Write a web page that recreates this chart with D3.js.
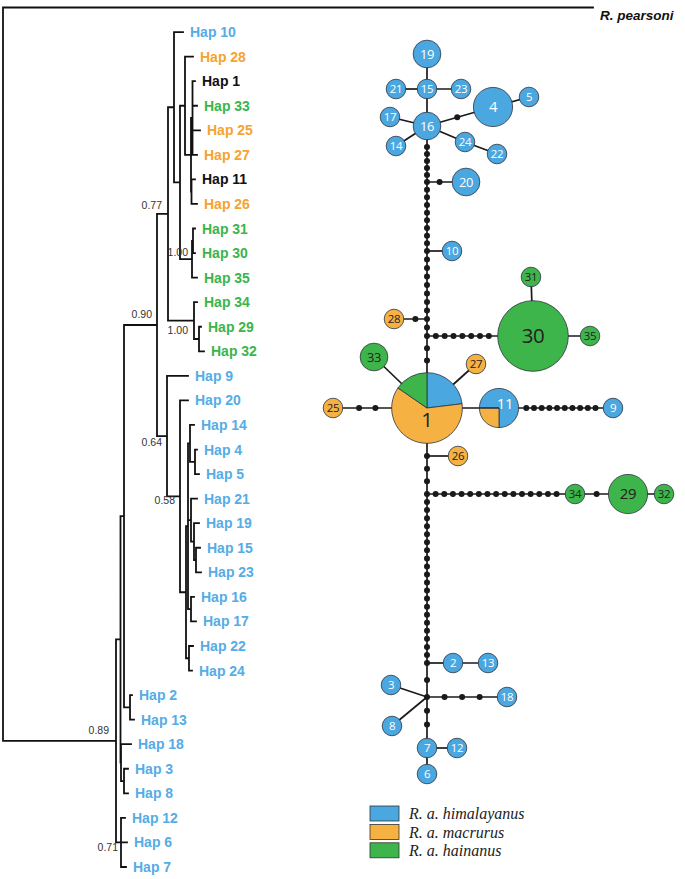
<!DOCTYPE html>
<html><head><meta charset="utf-8">
<script src="https://cdn.jsdelivr.net/npm/d3@7"></script>
<style>html,body{margin:0;padding:0;background:#fff;} svg{display:block;}</style>
</head><body><svg id="c" width="685" height="879"></svg>
<script>
// ---------------- DATA ----------------
// Bayesian tree (branch lengths, support values as internal labels)
const newick = "(R. pearsoni:590,((((((Hap 10:9,((Hap 28:8,((Hap 1:2.5,Hap 33:4.5,Hap 25:7.5,Hap 27:4.5):1.5,(Hap 11:3.5,Hap 26:5.5):0.5):6):5,((Hap 31:2,Hap 30:2):1,Hap 35:5)1.00:12):6):6,(Hap 34:3,(Hap 29:2,Hap 32:5):5)1.00:26)0.77:11,(Hap 9:21,(Hap 20:8,(((Hap 14:4,(Hap 4:2,Hap 5:4):5):2,(Hap 21:6,(Hap 19:5,(Hap 15:4,Hap 23:5):2):3):3,(Hap 16:3,Hap 17:5):3):2,(Hap 22:4,Hap 24:3):3):6)0.58:13)0.64:10)0.90:33,(Hap 2:2,Hap 13:4):6):3.5,(Hap 18:10,(Hap 3:4,Hap 8:4):3):0.5):4.5,(Hap 12:4,Hap 6:6,Hap 7:5)0.71:5)0.89:113);";

const groups = ["R. a. himalayanus", "R. a. macrurus", "R. a. hainanus"];
const blueLeaves = ["Hap 10","Hap 9","Hap 20","Hap 14","Hap 4","Hap 5","Hap 21","Hap 19","Hap 15","Hap 23","Hap 16","Hap 17","Hap 22","Hap 24","Hap 2","Hap 13","Hap 18","Hap 3","Hap 8","Hap 12","Hap 6","Hap 7"];
const orangeLeaves = ["Hap 28","Hap 25","Hap 27","Hap 26"];
const greenLeaves = ["Hap 33","Hap 31","Hap 30","Hap 35","Hap 34","Hap 29","Hap 32"];
const mixedLeaves = ["Hap 1","Hap 11"];

// Haplotype network: [id, layout x, layout y, n himalayanus, n macrurus, n hainanus]
const haplotypes = [
  ["16",0,0,2,0,0],["15",0,-37,1,0,0],["19",0,-72,2,0,0],["21",-31,-37,1,0,0],["23",34,-37,1,0,0],
  ["17",-37,-9,1,0,0],["14",-31,20,1,0,0],["4",66,-19,4,0,0],["5",102,-29,1,0,0],["24",38,16,1,0,0],
  ["22",70,28,1,0,0],["20",39,56,2,0,0],["10",25,125,1,0,0],["28",-33,193,0,1,0],["30",106,210,0,0,13],
  ["31",104,151,0,0,1],["35",163,210,0,0,1],["1",0,282,3,8,2],["33",-53,231,0,0,2],["27",49,238,0,1,0],
  ["25",-94,282,0,1,0],["11",72,282,3,1,0],["9",186,282,1,0,0],["26",31,330,0,1,0],["34",148,368,0,0,1],
  ["29",201,368,0,0,4],["32",237,368,0,0,1],["2",26,537,1,0,0],["13",61,537,1,0,0],["3",-36,559,1,0,0],
  ["8",-35,600,1,0,0],["18",80,571,1,0,0],["7",0,622,1,0,0],["12",30,622,1,0,0],["6",0,648,1,0,0]
];
// median vectors (inferred haplotypes) on the network
const medianVectors = [["J20",0,56],["J10",0,125],["J28",0,193],["J30",0,210],["J26",0,330],["J34",0,368],["J2",0,537],["H",0,571]];
// links: [from, to, mutation steps]
const links = [
  ["16","15",1],["15","19",1],["15","21",1],["15","23",1],["16","17",1],["16","14",1],["16","24",1],["24","22",1],
  ["16","4",2],["4","5",1],["16","J20",6],["J20","20",2],["J20","J10",9],["J10","10",1],["J10","J28",8],
  ["J28","28",2],["J28","J30",2],["J30","30",8],["30","31",1],["30","35",1],["J30","1",3],["1","33",1],
  ["1","27",1],["1","25",3],["1","11",1],["11","9",11],["1","J26",1],["J26","26",1],["J26","J34",3],
  ["J34","34",16],["34","29",2],["29","32",1],["J34","J2",21],["J2","2",1],["2","13",1],["J2","H",2],
  ["H","3",1],["H","8",1],["H","18",4],["H","7",3],["7","12",1],["7","6",1]
];

// ---------------- STYLE ----------------
const groupFill = ["#4BA7E0", "#F6B143", "#3DB54A"];
const labelFill = {blue:"#55ACE6", orange:"#F5A331", green:"#3BB54A", mixed:"#111"};
const svg = d3.select("#c");

// ---------------- TREE ----------------
function parseNewick(s){
  let i = 0;
  function node(){
    const n = {children: []};
    if (s[i] === "("){
      i++;
      n.children.push(node());
      while (s[i] === ","){ i++; n.children.push(node()); }
      i++;
    }
    let name = "";
    while (i < s.length && !",():;".includes(s[i])) name += s[i++];
    n.name = name.trim();
    if (s[i] === ":"){
      i++;
      let l = "";
      while (i < s.length && !",();".includes(s[i])) l += s[i++];
      n.length = +l;
    }
    return n;
  }
  return node();
}
const root = d3.hierarchy(parseNewick(newick), d => d.children.length ? d.children : null);
const xT = d3.scaleLinear().domain([0, 590]).range([3, 593]);
const leaves = root.leaves();
const yT = d3.scaleLinear().domain([0, leaves.length - 1]).range([7.5, 867]);
root.each(d => { d.dist = d.parent ? d.parent.dist + d.data.length : 0; d.px = xT(d.dist); });
leaves.forEach((d, i) => d.py = yT(i));
root.eachAfter(d => { if (d.children) d.py = (d.children[0].py + d.children[d.children.length-1].py) / 2; });

const tg = svg.append("g");
const segs = [];
root.each(d => {
  if (d.parent) segs.push(`M${d.parent.px},${d.py}H${d.px}`);
  if (d.children) segs.push(`M${d.px},${d.children[0].py}V${d.children[d.children.length-1].py}`);
});
tg.append("path").attr("d", segs.join("")).attr("fill","none").attr("stroke","#111")
  .attr("stroke-width",1.8).attr("stroke-linecap","square");

function leafColor(n){
  if (blueLeaves.includes(n)) return labelFill.blue;
  if (orangeLeaves.includes(n)) return labelFill.orange;
  if (greenLeaves.includes(n)) return labelFill.green;
  return labelFill.mixed;
}
tg.selectAll("text.leaf").data(leaves).join("text")
  .attr("x", d => d.px + 7)
  .attr("y", d => d.py + (d.data.name === "R. pearsoni" ? 8 : 0))
  .attr("dy", "0.36em")
  .attr("font-family", "'Liberation Sans', Arial, sans-serif")
  .attr("font-weight", "bold")
  .attr("font-style", d => d.data.name === "R. pearsoni" ? "italic" : "normal")
  .attr("font-size", d => d.data.name === "R. pearsoni" ? 13.5 : 14)
  .attr("fill", d => leafColor(d.data.name))
  .text(d => d.data.name);

// support value placement (style)
const supportOffset = [[-7,-7],[-6,-4.5],[-5,-7],[-5,10],[-5,8],[-4,-3],[-6,13.5],[-3,9]];
const supportNodes = root.descendants().filter(d => d.children && d.data.name);
const supportOrder = {"0.89":0,"0.77":1,"0.90":2,"0.64":3,"0.58":4,"0.71":7};
supportNodes.forEach(d => {
  let k = supportOrder[d.data.name];
  if (d.data.name === "1.00") k = d.py < 290 ? 5 : 6;
  d.off = supportOffset[k];
});
tg.selectAll("text.sup").data(supportNodes).join("text")
  .attr("x", d => d.px + d.off[0]).attr("y", d => d.py + d.off[1])
  .attr("text-anchor","end")
  .attr("font-family","'Liberation Sans', Arial, sans-serif")
  .attr("font-size",10.5).attr("fill","#333")
  .text(d => d.data.name);

// ---------------- NETWORK ----------------
const nx = d3.scaleLinear().domain([-100, 260]).range([327, 687]);
const ny = d3.scaleLinear().domain([0, 700]).range([126, 826]);
const rScale = d3.scaleSqrt().domain([0, 1]).range([0, 9.8]);
const fsScale = d3.scaleLinear().domain([9.8, 35.3]).range([11.5, 20.5]);

const nodeMap = {};
haplotypes.forEach(h => {
  const counts = h.slice(3);
  const total = d3.sum(counts);
  nodeMap[h[0]] = {id:h[0], x:nx(h[1]), y:ny(h[2]), counts, r:rScale(total), hap:true};
});
medianVectors.forEach(m => { nodeMap[m[0]] = {id:m[0], x:nx(m[1]), y:ny(m[2]), r:0, hap:false}; });

const ng = svg.append("g");
ng.selectAll("line").data(links).join("line")
  .attr("x1", l => nodeMap[l[0]].x).attr("y1", l => nodeMap[l[0]].y)
  .attr("x2", l => nodeMap[l[1]].x).attr("y2", l => nodeMap[l[1]].y)
  .attr("stroke","#1a1a1a").attr("stroke-width",1.7);

const dots = [];
links.forEach(([a, b, s]) => {
  const A = nodeMap[a], B = nodeMap[b];
  const dx = B.x - A.x, dy = B.y - A.y, L = Math.hypot(dx, dy);
  const ux = dx / L, uy = dy / L;
  const sx = A.x + ux * A.r, sy = A.y + uy * A.r;
  const ex = B.x - ux * B.r, ey = B.y - uy * B.r;
  for (let k = 1; k < s; k++) dots.push([sx + (ex - sx) * k / s, sy + (ey - sy) * k / s]);
});
medianVectors.forEach(m => dots.push([nodeMap[m[0]].x, nodeMap[m[0]].y]));
ng.selectAll("circle.dot").data(dots).join("circle")
  .attr("cx", d => d[0]).attr("cy", d => d[1]).attr("r", 3).attr("fill","#1a1a1a");

const pieStart = {"11": -Math.PI/2};
const haps = Object.values(nodeMap).filter(d => d.hap);
const hg = ng.selectAll("g.hap").data(haps).join("g").attr("transform", d => `translate(${d.x},${d.y})`);
hg.each(function(d){
  const g = d3.select(this);
  const nonzero = d.counts.filter(c => c > 0).length;
  if (nonzero === 1){
    g.append("circle").attr("r", d.r).attr("fill", groupFill[d.counts.findIndex(c => c > 0)])
      .attr("stroke","#2b3440").attr("stroke-width",0.8);
  } else {
    const st = pieStart[d.id] || 0;
    const pie = d3.pie().sort(null).startAngle(st).endAngle(st + 2*Math.PI);
    const arc = d3.arc().innerRadius(0).outerRadius(d.r);
    g.selectAll("path").data(pie(d.counts)).join("path")
      .attr("d", arc).attr("fill", (p, i) => groupFill[i])
      .attr("stroke","#2b3440").attr("stroke-width",0.8);
  }
});
const labelShift = {"1":[0,12], "11":[6,-4]};
hg.append("text")
  .attr("x", d => (labelShift[d.id] || [0,0])[0])
  .attr("y", d => (labelShift[d.id] || [0,0])[1])
  .attr("dy","0.36em").attr("text-anchor","middle")
  .attr("font-family","'Open Sans', 'Noto Sans', sans-serif")
  .attr("letter-spacing", -0.4)
  .attr("font-size", d => fsScale(d.r))
  .attr("fill", d => d3.maxIndex(d.counts) === 0 ? "#fff" : "#222")
  .text(d => d.id);

// ---------------- LEGEND ----------------
const lg = svg.append("g");
groups.forEach((name, i) => {
  lg.append("rect").attr("x", 370).attr("y", 806 + i * 18.4).attr("width", 29).attr("height", 15)
    .attr("fill", groupFill[i]).attr("stroke","#333").attr("stroke-width",0.8);
  lg.append("text").attr("x", 409).attr("y", 819 + i * 18.5)
    .attr("font-family","'Liberation Serif', 'Times New Roman', serif")
    .attr("font-style","italic").attr("font-size",16).attr("fill","#222")
    .text(name);
});
</script>
</body></html>
